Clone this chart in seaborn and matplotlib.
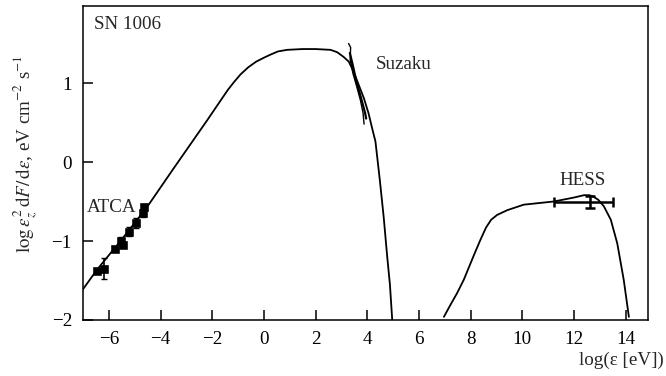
import numpy as np
import pandas as pd
import matplotlib
matplotlib.use("Agg")
import matplotlib.pyplot as plt
import seaborn as sns

# ---- data ----
sync_x = [-7.0, -6.45, -5.5, -4.52, -3.49, -2.19, -1.40, -1.16, -0.90, -0.60, -0.30, 0.0, 0.26, 0.55, 0.90, 1.5, 2.0, 2.58, 2.84, 3.09, 3.29, 3.48, 3.68, 3.87, 4.05, 4.19, 4.32, 4.49, 4.64, 4.77, 4.88, 4.97]
sync_y = [-1.61, -1.36, -0.98, -0.57, -0.08, 0.53, 0.91, 1.01, 1.11, 1.20, 1.27, 1.32, 1.36, 1.40, 1.42, 1.43, 1.43, 1.42, 1.39, 1.33, 1.27, 1.14, 0.97, 0.81, 0.62, 0.43, 0.26, -0.23, -0.70, -1.18, -1.55, -2.0]

ic_x = [6.97, 7.22, 7.48, 7.74, 8.13, 8.39, 8.60, 8.80, 9.03, 9.42, 10.06, 11.22, 12.0, 12.39, 12.6, 12.77, 12.95, 13.16, 13.43, 13.68, 13.93, 14.13]
ic_y = [-1.96, -1.81, -1.66, -1.49, -1.18, -0.98, -0.83, -0.73, -0.67, -0.61, -0.54, -0.50, -0.45, -0.42, -0.42, -0.44, -0.48, -0.56, -0.73, -1.03, -1.49, -1.96]

suz1_x = [3.28, 3.36, 3.34, 3.45, 3.60, 3.74, 3.84, 3.88]
suz1_y = [1.50, 1.45, 1.30, 1.12, 0.95, 0.78, 0.62, 0.48]
suz2_x = [3.33, 3.46, 3.58, 3.72, 3.82, 3.92, 3.96]
suz2_y = [1.38, 1.20, 1.02, 0.86, 0.74, 0.62, 0.55]

atca_x = [-6.45, -6.2, -5.75, -5.52, -5.45, -5.22, -4.93, -4.67, -4.63]
atca_y = [-1.38, -1.35, -1.10, -1.00, -1.05, -0.88, -0.77, -0.65, -0.57]
atca_err = [0.03, 0.13, 0.03, 0.05, 0.03, 0.06, 0.06, 0.05, 0.04]

hess_x = [12.64]
hess_y = [-0.50]
hess_xlo = [11.25]
hess_xhi = [13.52]
hess_ylo = [0.08]
hess_yhi = [0.07]

xticks = [-6, -4, -2, 0, 2, 4, 6, 8, 10, 12, 14]
yticks = [-2, -1, 0, 1]

# ---- style ----
sns.set_style("ticks")
plt.rcParams['font.family'] = ['Liberation Serif', 'DejaVu Serif']
plt.rcParams['mathtext.fontset'] = 'stix'
plt.rcParams['axes.unicode_minus'] = True
FS = 13.7

fig = plt.figure(figsize=(6.66, 3.76), dpi=100)
ax = fig.add_axes([83/666, 1 - 320/376, 565/666, 314/376])

lw = 1.3
sns.lineplot(x=sync_x, y=sync_y, ax=ax, color='black', lw=lw, sort=False, estimator=None)
sns.lineplot(x=ic_x, y=ic_y, ax=ax, color='black', lw=lw, sort=False, estimator=None)
sns.lineplot(x=suz1_x, y=suz1_y, ax=ax, color='black', lw=1.0, sort=False, estimator=None)
sns.lineplot(x=suz2_x, y=suz2_y, ax=ax, color='black', lw=1.6, sort=False, estimator=None)

ax.errorbar(atca_x, atca_y, yerr=atca_err, fmt='none', ecolor='black', elinewidth=1.2, capsize=2.5)
sns.scatterplot(x=atca_x, y=atca_y, ax=ax, marker='s', s=30, color='black', edgecolor='black', zorder=5)

hx = np.array(hess_x)
ax.errorbar(hess_x, hess_y,
            xerr=[hx - np.array(hess_xlo), np.array(hess_xhi) - hx],
            yerr=[hess_ylo, hess_yhi],
            fmt='none', ecolor='black', elinewidth=1.8, capsize=3.5, capthick=1.8)

ax.set_xlim(-7, 14.87)
ax.set_ylim(-2, 1.975)
ax.set_xticks(xticks)
ax.set_yticks(yticks)
ax.tick_params(direction='in', top=False, right=False, length=7.5, width=1.1,
               labelsize=FS, pad=8, colors='black')
for sp in ax.spines.values():
    sp.set_linewidth(1.1)
    sp.set_color('black')

ax.set_ylabel(r"$\log\epsilon_z^2\,\mathrm{d}F/\,\mathrm{d}\epsilon$, eV cm$^{-2}$ s$^{-1}$", fontsize=FS)
ax.yaxis.set_label_coords(-0.076, 0.53)
ax.set_xlabel("log(ε [eV])", fontsize=FS, ha='right')
ax.xaxis.set_label_coords((664 - 83) / 565, -0.102)

ax.text(0.0195, 0.968, "SN 1006", transform=ax.transAxes, fontsize=FS, va='top', ha='left')
ax.text(4.32, 1.23, "Suzaku", fontsize=FS, va='center', ha='left')
ax.text(-6.87, -0.57, "ATCA", fontsize=FS, va='center', ha='left')
ax.text(12.32, -0.23, "HESS", fontsize=FS, va='center', ha='center')

fig.savefig("out.png", dpi=100)
